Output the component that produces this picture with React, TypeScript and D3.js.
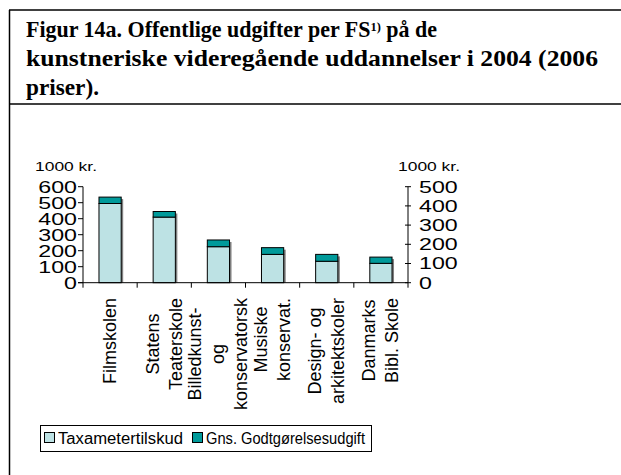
import React from "react";
import * as d3 from "d3";

const categories: string[][] = [
  ["Filmskolen"],
  ["Statens", "Teaterskole"],
  ["Billedkunst-", "og", "konservatorsk"],
  ["Musiske", "konservat."],
  ["Design- og", "arkitektskoler"],
  ["Danmarks", "Bibl. Skole"],
];
const taxameter = [495, 410, 225, 177, 134, 121];
const godtgoerelse = [40, 35, 42, 42, 43, 39];
const leftTicks = [0, 100, 200, 300, 400, 500, 600];
const rightTicks = [0, 100, 200, 300, 400, 500];
const seriesNames = ["Taxametertilskud", "Gns. Godtgørelsesudgift"];
const titleLines = [
  "Figur 14a. Offentlige udgifter per FS",
  "kunstneriske videregående uddannelser i 2004 (2006",
  "priser).",
];
const titleNote = "1)";
const titleTail = " på de";

const LIGHT = "#BDE2E4";
const TEAL = "#009A9A";
const FONT = "Arial, 'Liberation Sans', sans-serif";

let ctx: CanvasRenderingContext2D | null = null;
function measure(t: string, size: number) {
  if (!ctx) ctx = document.createElement("canvas").getContext("2d");
  if (!ctx) return t.length * size * 0.5;
  ctx.font = `${size}px Arial, 'Liberation Sans', sans-serif`;
  return ctx.measureText(t).width;
}

export default function App() {
  const W = 621, H = 475;
  const x0 = 83, x1 = 408, yTop = 186.7, yBase = 282.7;
  const x = d3.scaleBand<number>().domain(d3.range(categories.length)).range([x0, x1]).paddingInner(0.59).paddingOuter(0.295);
  const yL = d3.scaleLinear().domain([0, 600]).range([yBase, yTop]);
  const yR = d3.scaleLinear().domain([0, 500]).range([yBase, yTop]);
  const step = (x1 - x0) / categories.length;
  const labelFs = 18;
  const lineGap = 23;
  const tickFs = 16;

  return (
    <svg width={W} height={H} style={{ position: "absolute", left: 0, top: 0, background: "#fff" }}>
      {/* frame */}
      <line x1={9} y1={10} x2={621} y2={10} stroke="#000" strokeWidth={1.5} />
      <line x1={9.5} y1={10} x2={9.5} y2={475} stroke="#000" strokeWidth={1.5} />
      <line x1={9} y1={104} x2={621} y2={104} stroke="#000" strokeWidth={1.5} />
      {/* title */}
      <g fontFamily="'Liberation Serif', 'Times New Roman', serif" fontWeight="bold" fontSize={23} fill="#000">
        <text x={26} y={37} textLength={411} lengthAdjust="spacingAndGlyphs">
          {titleLines[0]}
          <tspan fontSize={13} dy={-6}>{titleNote}</tspan>
          <tspan dy={6}>{titleTail}</tspan>
        </text>
        <text x={26} y={66} textLength={572} lengthAdjust="spacingAndGlyphs">{titleLines[1]}</text>
        <text x={26} y={95} textLength={73} lengthAdjust="spacingAndGlyphs">{titleLines[2]}</text>
      </g>

      {/* axis unit labels */}
      <g fontFamily={FONT} fontSize={13} fill="#000">
        <text x={35} y={171} textLength={62} lengthAdjust="spacingAndGlyphs">1000 kr.</text>
        <text x={398} y={171} textLength={62} lengthAdjust="spacingAndGlyphs">1000 kr.</text>
      </g>

      {/* bars */}
      {categories.map((_, i) => {
        const bx = x(i)!;
        const bw = x.bandwidth();
        const t = taxameter[i];
        const tot = t + godtgoerelse[i];
        return (
          <g key={i}>
            <rect x={bx + 2} y={yL(tot) + 2} width={bw} height={yBase - yL(tot) - 2} fill="#808080" />
            <rect x={bx} y={yL(t)} width={bw} height={yBase - yL(t)} fill={LIGHT} stroke="#000" strokeWidth={1} />
            <rect x={bx} y={yL(tot)} width={bw} height={yL(t) - yL(tot)} fill={TEAL} stroke="#000" strokeWidth={1} />
          </g>
        );
      })}

      {/* left axis */}
      <line x1={x0} y1={yTop} x2={x0} y2={yBase} stroke="#000" />
      {leftTicks.map((v) => (
        <g key={v}>
          <line x1={x0 - 5} x2={x0} y1={yL(v)} y2={yL(v)} stroke="#000" />
          <text x={77} y={yL(v) + 6} textAnchor="end" fontFamily={FONT} fontSize={tickFs}
            transform={`translate(77,0) scale(1.45,1) translate(-77,0)`}>{v}</text>
        </g>
      ))}
      {/* right axis */}
      <line x1={x1} y1={yTop} x2={x1} y2={yBase} stroke="#000" />
      {rightTicks.map((v) => (
        <g key={v}>
          <line x1={x1 - 3} x2={x1 + 3} y1={yR(v)} y2={yR(v)} stroke="#000" />
          <text x={419} y={yR(v) + 6} fontFamily={FONT} fontSize={tickFs}
            transform={`translate(419,0) scale(1.45,1) translate(-419,0)`}>{v}</text>
        </g>
      ))}
      {/* x axis */}
      <line x1={x0 - 5} x2={x1} y1={yBase} y2={yBase} stroke="#000" />
      {d3.range(categories.length + 1).map((i) => (
        <line key={i} x1={x0 + i * step} x2={x0 + i * step} y1={yBase} y2={yBase + 5} stroke="#000" />
      ))}
      {/* category labels */}
      {categories.map((lines, i) => {
        const cx = x(i)! + x.bandwidth() / 2;
        const maxW = Math.max(...lines.map((l) => measure(l, labelFs)));
        const cy = 298 + maxW / 2;
        return lines.map((l, j) => {
          const lx = cx + (j - (lines.length - 1) / 2) * lineGap + 6;
          return (
            <text key={`${i}-${j}`} x={0} y={0} textAnchor="middle" fontFamily={FONT} fontSize={labelFs}
              transform={`translate(${lx},${cy}) rotate(-90)`}>{l}</text>
          );
        });
      })}

      {/* legend */}
      <rect x={40.5} y={425.5} width={331} height={26} fill="#fff" stroke="#000" />
      <rect x={44.5} y={432.5} width={10} height={10} fill={LIGHT} stroke="#000" />
      <text x={58} y={444} fontFamily={FONT} fontSize={16} textLength={125} lengthAdjust="spacingAndGlyphs">{seriesNames[0]}</text>
      <rect x={192.5} y={432.5} width={10} height={10} fill={TEAL} stroke="#000" />
      <text x={206} y={444} fontFamily={FONT} fontSize={16} textLength={159} lengthAdjust="spacingAndGlyphs">{seriesNames[1]}</text>
    </svg>
  );
}
